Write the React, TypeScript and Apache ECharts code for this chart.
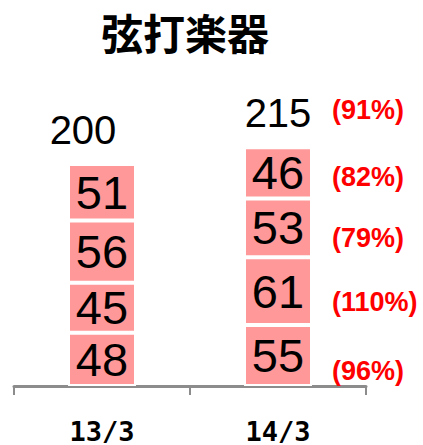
import React, { useEffect, useRef } from "react";
import * as echarts from "echarts";

const categories = ["13/3", "14/3"];
// stacked segments, bottom to top
const seg1 = [48, 55];
const seg2 = [45, 61];
const seg3 = [56, 53];
const seg4 = [51, 46];
const totals = [200, 215];
// ratio labels for the latest year: bottom segment to top segment, then total
const ratioLabels = ["(96%)", "(110%)", "(79%)", "(82%)", "(91%)"];

const SANS = "'Liberation Sans', Arial, sans-serif";
const ratioOffsets = [16, 11, 10, 4, -37];
const totalOffsets = [-19, 0];

export default function App() {
  const ref = useRef<HTMLDivElement>(null);
  useEffect(() => {
    const chart = echarts.init(ref.current!, null, { renderer: "svg" });
    const segments = [seg1, seg2, seg3, seg4];
    const last = categories.length - 1;
    const barSeries = segments.map((d) => ({
      type: "bar",
      stack: "total",
      data: d,
      barWidth: 68,
      itemStyle: { color: "#FF9999", borderColor: "#ffffff", borderWidth: 2 },
      label: {
        show: true,
        position: "inside",
        color: "#000",
        fontSize: 47,
        fontFamily: SANS,
      },
    }));
    let cum = 0;
    const ratioData: any[] = segments.map((d, i) => {
      const mid = cum + d[last] / 2;
      cum += d[last];
      return {
        value: [last, mid],
        label: { formatter: ratioLabels[i], offset: [0, ratioOffsets[i]] },
      };
    });
    ratioData.push({
      value: [last, totals[last]],
      label: { formatter: ratioLabels[4], offset: [0, ratioOffsets[4]] },
    });
    const totalData = totals.map((t, i) => ({
      value: [i, t],
      label: { offset: [totalOffsets[i], 0] },
    }));
    chart.setOption({
      animation: false,
      title: {
        text: "弦打楽器",
        left: 96,
        top: 5,
        textStyle: {
          fontSize: 42,
          fontWeight: "bold",
          color: "#000",
          fontFamily: "'Noto Sans CJK JP', sans-serif",
        },
      },
      grid: { left: 14, right: 57, top: 53, bottom: 59 },
      xAxis: {
        type: "category",
        data: categories,
        axisLine: { lineStyle: { color: "#8c8c8c", width: 3 } },
        axisTick: { show: true, length: 9, lineStyle: { color: "#8c8c8c", width: 2 } },
        axisLabel: {
          color: "#000",
          fontSize: 27,
          lineHeight: 26,
          fontWeight: "bold",
          fontFamily: "'DejaVu Sans Mono', 'Liberation Mono', monospace",
          margin: 32,
        },
      },
      yAxis: { type: "value", min: 0, max: 300, show: false, splitLine: { show: false } },
      series: [
        ...barSeries,
        {
          type: "scatter",
          symbolSize: 0,
          itemStyle: { opacity: 1 },
          data: totalData,
          label: {
            show: true,
            position: "top",
            distance: 14,
            color: "#000",
            fontSize: 40,
            fontFamily: SANS,
            formatter: (p: any) => String(p.value[1]),
          },
          z: 5,
        },
        {
          type: "scatter",
          symbolSize: 0,
          itemStyle: { opacity: 1 },
          data: ratioData,
          label: {
            show: true,
            position: "right",
            distance: 54,
            color: "#FF0000",
            fontSize: 27,
            fontWeight: "bold",
            fontFamily: SANS,
          },
          z: 5,
        },
      ],
    });
    return () => chart.dispose();
  }, []);
  return (
    <div
      ref={ref}
      style={{ position: "absolute", left: 0, top: 0, width: 423, height: 445, background: "#fff" }}
    />
  );
}
